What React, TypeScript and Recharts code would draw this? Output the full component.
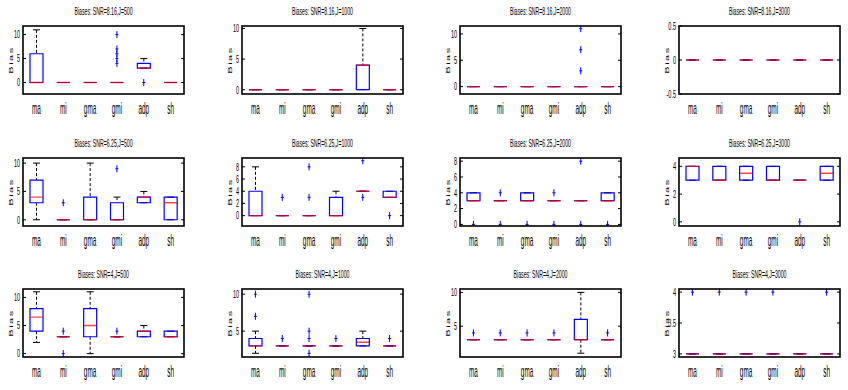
import React from 'react';
import { ComposedChart, Bar, Line, XAxis, YAxis } from 'recharts';

// Estimator names along every x axis
const categories = ['ma', 'mi', 'gma', 'gmi', 'adp', 'sh'];

const panelTitles = [
  'Biases: SNR=8.16,J=500', 'Biases: SNR=8.16,J=1000', 'Biases: SNR=8.16,J=2000', 'Biases: SNR=8.16,J=3000',
  'Biases: SNR=6.25,J=500', 'Biases: SNR=6.25,J=1000', 'Biases: SNR=6.25,J=2000', 'Biases: SNR=6.25,J=3000',
  'Biases: SNR=4,J=500', 'Biases: SNR=4,J=1000', 'Biases: SNR=4,J=2000', 'Biases: SNR=4,J=3000',
];

// Box statistics per panel, one value per estimator (ma, mi, gma, gmi, adp, sh)
const boxLower = [
  [0, 0, 0, 0, 3, 0], [0, 0, 0, 0, 0, 0], [0, 0, 0, 0, 0, 0], [0, 0, 0, 0, 0, 0],
  [3, 0, 0, 0, 3, 0], [0, 0, 0, 0, 4, 3], [3, 3, 3, 3, 3, 3], [3, 3, 3, 3, 3, 3],
  [4, 3, 3, 3, 3, 3], [3, 3, 3, 3, 3, 3], [3, 3, 3, 3, 3, 3], [3, 3, 3, 3, 3, 3],
];
const medians = [
  [0, 0, 0, 0, 3, 0], [0, 0, 0, 0, 4, 0], [0, 0, 0, 0, 0, 0], [0, 0, 0, 0, 0, 0],
  [4, 0, 0, 0, 4, 3], [0, 0, 0, 0, 4, 3], [3, 3, 3, 3, 3, 3], [4, 3, 3.5, 3, 3, 3.5],
  [6.5, 3, 5, 3, 4, 3], [3, 3, 3, 3, 3.5, 3], [3, 3, 3, 3, 3, 3], [3, 3, 3, 3, 3, 3],
];
const boxUpper = [
  [6, 0, 0, 0, 4, 0], [0, 0, 0, 0, 4, 0], [0, 0, 0, 0, 0, 0], [0, 0, 0, 0, 0, 0],
  [7, 0, 4, 3, 4, 4], [4, 0, 0, 3, 4, 4], [4, 3, 4, 3, 3, 4], [4, 4, 4, 4, 3, 4],
  [8, 3, 8, 3, 4, 4], [4, 3, 3, 3, 4, 3], [3, 3, 3, 3, 6, 3], [3, 3, 3, 3, 3, 3],
];
const whiskerLower = [
  [0, 0, 0, 0, 3, 0], [0, 0, 0, 0, 0, 0], [0, 0, 0, 0, 0, 0], [0, 0, 0, 0, 0, 0],
  [0, 0, 0, 0, 3, 0], [0, 0, 0, 0, 4, 3], [3, 3, 3, 3, 3, 3], [3, 3, 3, 3, 3, 3],
  [2, 3, 0, 3, 3, 3], [2, 3, 3, 3, 3, 3], [3, 3, 3, 3, 1, 3], [3, 3, 3, 3, 3, 3],
];
const whiskerUpper = [
  [11, 0, 0, 0, 5, 0], [0, 0, 0, 0, 10, 0], [0, 0, 0, 0, 0, 0], [0, 0, 0, 0, 0, 0],
  [10, 0, 10, 4, 5, 4], [8, 0, 0, 4, 4, 4], [4, 3, 4, 3, 3, 4], [4, 4, 4, 4, 3, 4],
  [11, 3, 11, 3, 5, 4], [5, 3, 3, 3, 5, 3], [3, 3, 3, 3, 10, 3], [3, 3, 3, 3, 3, 3],
];
const outliers: number[][][] = [
  [[], [], [], [10, 7, 6, 5, 4], [0], []],
  [[], [], [], [], [], []],
  [[], [], [], [], [11, 7, 3], []],
  [[], [], [], [], [], []],
  [[], [3], [], [9], [], []],
  [[], [3], [8, 3], [], [9, 3], [0]],
  [[0], [4, 0], [0], [4, 0], [8, 0], [0]],
  [[], [], [], [], [0], []],
  [[], [4, 0], [], [4], [], []],
  [[10, 7], [4], [10, 5, 4, 2], [4], [], [4]],
  [[4], [4], [4], [4], [], [4]],
  [[4], [4], [4], [4], [], [4]],
];

// Y axis ranges and tick values per panel
const yDomains: [number, number][] = [
  [-2.4, 11.8], [-0.7, 10.4], [-1.4, 11.5], [-0.5, 0.5],
  [-1.1, 10.9], [-1.7, 9.45], [-0.2, 8.4], [-0.3, 4.6],
  [-0.6, 11.5], [1.5, 10.7], [0.44, 10.5], [2.95, 4.05],
];
const yTicks = [
  [0, 5, 10], [0, 5, 10], [0, 5, 10], [-0.5, 0, 0.5],
  [0, 5, 10], [0, 2, 4, 6, 8], [0, 2, 4, 6, 8], [0, 2, 4],
  [0, 5, 10], [5, 10], [5, 10], [3, 3.5, 4],
];

const MAX_OUT = 5;

// Page layout of the plot areas
const colLeft = [23, 242, 460, 679];
const rowTop = [26, 158, 289];
const PLOT_W = 161;
const PLOT_H = 68;
const Y_AXIS_W = 34;
const TOP_M = 9;
const X_AXIS_H = 30;
const RIGHT_M = 2;

const BOX_W = 13;
const CAP_W = 7;
const FONT = '"Liberation Sans", Arial, Helvetica, sans-serif';
const SQUEEZE = 0.47;
const BLUE = '#0000ff';
const RED = '#ff0000';

function buildRows(p: number) {
  return categories.map((name, i) => {
    const row: Record<string, any> = {
      name,
      q1: boxLower[p][i],
      med: medians[p][i],
      q3: boxUpper[p][i],
      lo: whiskerLower[p][i],
      hi: whiskerUpper[p][i],
    };
    outliers[p][i].forEach((v, k) => {
      row['o' + k] = v;
    });
    return row;
  });
}

function norm(props: any) {
  const top = Math.min(props.y, props.y + props.height);
  const h = Math.abs(props.height);
  return { cx: props.x + props.width / 2, top, bottom: top + h, left: props.x, w: props.width };
}

const UpperWhisker = (props: any) => {
  const { cx, top, bottom } = norm(props);
  return (
    <g>
      <line x1={cx} x2={cx} y1={top} y2={bottom} stroke="#000" strokeDasharray="3 2" strokeWidth={1} />
      <line x1={cx - CAP_W / 2} x2={cx + CAP_W / 2} y1={top} y2={top} stroke="#000" strokeWidth={1} />
    </g>
  );
};

const LowerWhisker = (props: any) => {
  const { cx, top, bottom } = norm(props);
  return (
    <g>
      <line x1={cx} x2={cx} y1={top} y2={bottom} stroke="#000" strokeDasharray="3 2" strokeWidth={1} />
      <line x1={cx - CAP_W / 2} x2={cx + CAP_W / 2} y1={bottom} y2={bottom} stroke="#000" strokeWidth={1} />
    </g>
  );
};

const BoxShape = (props: any) => {
  const { top, bottom, left, w } = norm(props);
  const h = bottom - top;
  return (
    <path
      d={`M${left},${top}h${w}v${h}h${-w}Z`}
      fill="none"
      stroke={BLUE}
      strokeWidth={1.2}
    />
  );
};

const MedianMark = (props: any) => {
  const { cx, cy, index } = props;
  if (cx == null || cy == null || Number.isNaN(cy)) return <g key={`m${index}`} />;
  return (
    <line
      key={`m${index}`}
      x1={cx - BOX_W / 2}
      x2={cx + BOX_W / 2}
      y1={cy}
      y2={cy}
      stroke={RED}
      strokeOpacity={0.72}
      strokeWidth={1.4}
    />
  );
};

const PlusMark = (props: any) => {
  const { cx, cy, value, index } = props;
  if (value == null || cx == null || cy == null || Number.isNaN(cy)) return <g key={`p${index}`} />;
  return (
    <g key={`p${index}`}>
      <line x1={cx} x2={cx} y1={cy - 3.5} y2={cy + 3.5} stroke={BLUE} strokeWidth={1} />
      <line x1={cx - 1.5} x2={cx + 1.5} y1={cy} y2={cy} stroke={BLUE} strokeWidth={1} />
    </g>
  );
};

const Y_TICK_MARGIN = 3;

// Left tick label plus inward tick marks on both vertical edges of the frame
const YTick = (props: any) => {
  const { x, y, payload } = props;
  const axisX = x + Y_TICK_MARGIN;
  return (
    <g>
      <line x1={axisX} x2={axisX + 3} y1={y} y2={y} stroke="#000" strokeWidth={1} />
      <line x1={axisX + PLOT_W - 3} x2={axisX + PLOT_W} y1={y} y2={y} stroke="#000" strokeWidth={1} />
      <text
        transform={`translate(${x},${y}) scale(${SQUEEZE + 0.03},1)`}
        textAnchor="end"
        dominantBaseline="central"
        fontSize={11}
        fontFamily={FONT}
        fill="#000"
      >
        {payload.value}
      </text>
    </g>
  );
};

const XTick = (props: any) => {
  const { x, y, payload } = props;
  return (
    <text
      transform={`translate(${x},${y + 20}) scale(0.4,1)`}
      textAnchor="middle"
      fontSize={16}
      fontFamily={FONT}
      fill="#000"
    >
      {payload.value}
    </text>
  );
};

const BiasLabel = (props: any) => {
  const vb = props.viewBox || {};
  const cx = vb.x + vb.width - 12;
  const cy = vb.y + vb.height / 2;
  return (
    <text
      transform={`translate(${cx},${cy}) scale(${SQUEEZE},1) rotate(-90)`}
      textAnchor="middle"
      dominantBaseline="central"
      fontSize={11}
      letterSpacing={1.5}
      fontFamily={FONT}
      fill="#000"
    >
      Bias
    </text>
  );
};

// Black box drawn round each plot area
function Frame({ left, top }: { left: number; top: number }) {
  return (
    <svg
      width={PLOT_W + 4}
      height={PLOT_H + 4}
      style={{ position: 'absolute', left: left - 2, top: top - 2, pointerEvents: 'none' }}
    >
      <rect x={2} y={2} width={PLOT_W} height={PLOT_H} fill="none" stroke="#000" strokeWidth={1.6} />
    </svg>
  );
}

function Panel({ p }: { p: number }) {
  const col = p % 4;
  const row = Math.floor(p / 4);
  const plotLeft = colLeft[col];
  const plotTop = rowTop[row];
  const data = buildRows(p);
  const domain = yDomains[p];
  const ticks = yTicks[p];
  const width = Y_AXIS_W + PLOT_W + RIGHT_M;
  const height = TOP_M + PLOT_H + X_AXIS_H;

  return (
    <>
      <div
        style={{
          position: 'absolute',
          left: plotLeft,
          top: plotTop - 21,
          width: PLOT_W,
          textAlign: 'center',
          fontFamily: FONT,
          fontSize: 11.5,
          lineHeight: '12px',
          whiteSpace: 'nowrap',
          transform: `scaleX(0.45)`,
          transformOrigin: 'center',
          color: '#000',
        }}
      >
        {panelTitles[p]}
      </div>
      <div style={{ position: 'absolute', left: plotLeft - Y_AXIS_W, top: plotTop - TOP_M }}>
        <ComposedChart
          width={width}
          height={height}
          data={data}
          margin={{ top: TOP_M, right: RIGHT_M, bottom: 0, left: 0 }}
        >
          <XAxis
            xAxisId="main"
            dataKey="name"
            interval={0}
            height={X_AXIS_H}
            tickLine={false}
            tickSize={0}
            tickMargin={0}
            tick={<XTick />}
            axisLine={false}
          />
          <XAxis xAxisId="wu" dataKey="name" hide />
          <XAxis xAxisId="wl" dataKey="name" hide />
          <YAxis
            yAxisId="y"
            type="number"
            domain={domain}
            ticks={ticks}
            interval={0}
            allowDataOverflow
            width={Y_AXIS_W}
            tickLine={false}
            tickSize={0}
            tickMargin={Y_TICK_MARGIN}
            tick={<YTick />}
            axisLine={false}
            label={{ content: BiasLabel }}
          />
          <Bar
            xAxisId="wu"
            yAxisId="y"
            dataKey={(d: any) => [d.q3, d.hi]}
            barSize={BOX_W}
            shape={UpperWhisker}
            isAnimationActive={false}
          />
          <Bar
            xAxisId="wl"
            yAxisId="y"
            dataKey={(d: any) => [d.lo, d.q1]}
            barSize={BOX_W}
            shape={LowerWhisker}
            isAnimationActive={false}
          />
          <Bar
            xAxisId="main"
            yAxisId="y"
            dataKey={(d: any) => [d.q1, d.q3]}
            barSize={BOX_W}
            shape={BoxShape}
            isAnimationActive={false}
          />
          <Line
            xAxisId="main"
            yAxisId="y"
            dataKey="med"
            stroke="none"
            strokeWidth={0}
            dot={MedianMark}
            activeDot={false}
            isAnimationActive={false}
          />
          {Array.from({ length: MAX_OUT }, (_, k) => (
            <Line
              key={k}
              xAxisId="main"
              yAxisId="y"
              dataKey={'o' + k}
              stroke="none"
              strokeWidth={0}
              dot={PlusMark}
              activeDot={false}
              isAnimationActive={false}
            />
          ))}
        </ComposedChart>
      </div>
      <Frame left={plotLeft} top={plotTop} />
    </>
  );
}

export default function App() {
  return (
    <div
      style={{
        position: 'absolute',
        left: 0,
        top: 0,
        width: 848,
        height: 390,
        background: '#fff',
        overflow: 'hidden',
      }}
    >
      {panelTitles.map((_, p) => (
        <Panel key={p} p={p} />
      ))}
    </div>
  );
}
